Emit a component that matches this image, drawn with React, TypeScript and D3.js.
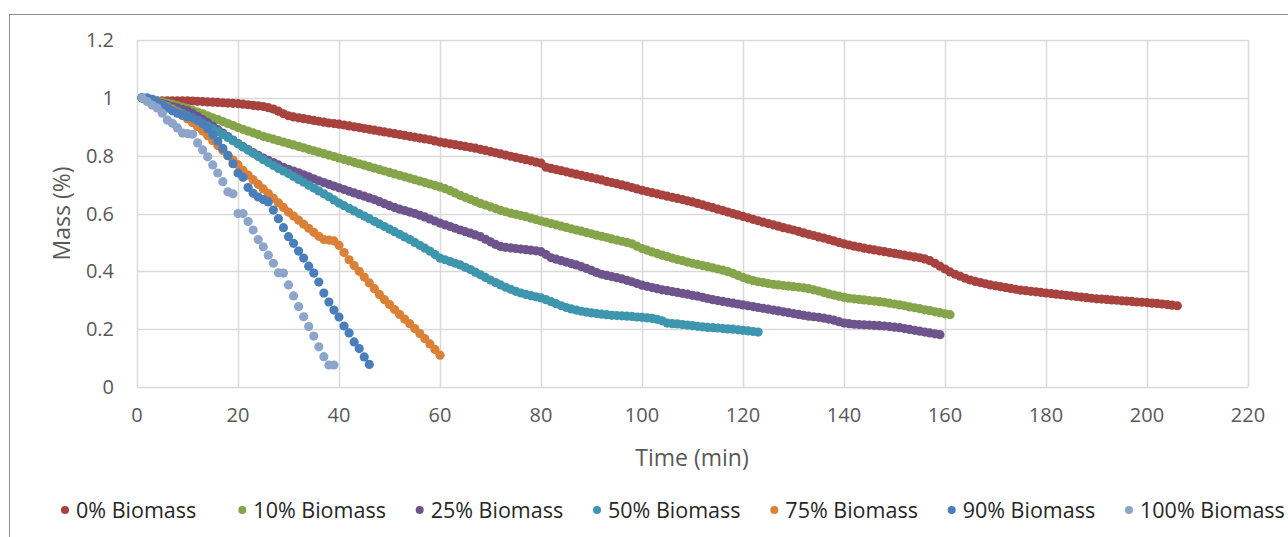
import React from "react";
import * as d3 from "d3";

// Time sampled every minute starting at t = 1 min
const TIME_START = 1;
const TIME_STEP = 1;

const xTicks = [0, 20, 40, 60, 80, 100, 120, 140, 160, 180, 200, 220];
const yTicks = [0, 0.2, 0.4, 0.6, 0.8, 1, 1.2];

const seriesNames = ["0% Biomass", "10% Biomass", "25% Biomass", "50% Biomass", "75% Biomass", "90% Biomass", "100% Biomass"];
const seriesColors = ["#A8423F", "#86A44A", "#6E548D", "#3D96AE", "#DA8137", "#4A7EBB", "#8EA5CB"];

const mass0 = [
  1.0, 0.995, 0.992, 0.99, 0.99, 0.99, 0.99, 0.99, 0.99, 0.99,
  0.989, 0.988, 0.987, 0.986, 0.985, 0.984, 0.983, 0.982, 0.981, 0.98,
  0.978, 0.976, 0.974, 0.972, 0.97, 0.966, 0.961, 0.954, 0.945, 0.938,
  0.934, 0.931, 0.928, 0.925, 0.922, 0.919, 0.916, 0.913, 0.911, 0.909,
  0.906, 0.903, 0.9, 0.897, 0.894, 0.891, 0.888, 0.885, 0.882, 0.879,
  0.876, 0.873, 0.87, 0.867, 0.864, 0.861, 0.858, 0.855, 0.851, 0.847,
  0.844, 0.841, 0.838, 0.835, 0.832, 0.829, 0.826, 0.822, 0.818, 0.814,
  0.81, 0.806, 0.802, 0.798, 0.794, 0.79, 0.786, 0.782, 0.778, 0.774,
  0.76, 0.756, 0.752, 0.748, 0.744, 0.74, 0.736, 0.732, 0.728, 0.724,
  0.72, 0.716, 0.711, 0.707, 0.703, 0.699, 0.695, 0.69, 0.685, 0.68,
  0.676, 0.672, 0.668, 0.664, 0.66, 0.656, 0.652, 0.648, 0.644, 0.64,
  0.635, 0.63, 0.625, 0.62, 0.615, 0.61, 0.605, 0.6, 0.595, 0.59,
  0.585, 0.58, 0.575, 0.57, 0.565, 0.561, 0.556, 0.551, 0.547, 0.543,
  0.538, 0.533, 0.528, 0.524, 0.519, 0.515, 0.51, 0.505, 0.5, 0.495,
  0.491, 0.487, 0.484, 0.48, 0.477, 0.474, 0.471, 0.468, 0.465, 0.462,
  0.459, 0.456, 0.453, 0.45, 0.447, 0.443, 0.437, 0.428, 0.418, 0.408,
  0.398, 0.39, 0.383, 0.376, 0.37, 0.365, 0.361, 0.357, 0.353, 0.35,
  0.347, 0.344, 0.341, 0.338, 0.335, 0.333, 0.331, 0.329, 0.327, 0.325,
  0.323, 0.321, 0.319, 0.317, 0.315, 0.313, 0.311, 0.309, 0.307, 0.305,
  0.304, 0.303, 0.301, 0.3, 0.298, 0.297, 0.296, 0.294, 0.293, 0.292,
  0.29, 0.289, 0.287, 0.285, 0.283, 0.281,
];

const mass10 = [
  1.0, 0.997, 0.994, 0.99, 0.986, 0.982, 0.978, 0.973, 0.968, 0.963,
  0.957, 0.951, 0.945, 0.938, 0.931, 0.925, 0.918, 0.911, 0.904, 0.897,
  0.891, 0.885, 0.879, 0.873, 0.867, 0.862, 0.857, 0.852, 0.847, 0.842,
  0.837, 0.832, 0.827, 0.822, 0.817, 0.812, 0.807, 0.802, 0.797, 0.792,
  0.787, 0.782, 0.777, 0.772, 0.767, 0.762, 0.757, 0.752, 0.747, 0.742,
  0.737, 0.732, 0.727, 0.722, 0.717, 0.712, 0.707, 0.702, 0.697, 0.692,
  0.686, 0.679, 0.671, 0.663, 0.656, 0.649, 0.642, 0.635, 0.629, 0.623,
  0.617, 0.611, 0.606, 0.601, 0.597, 0.593, 0.589, 0.584, 0.579, 0.574,
  0.57, 0.565, 0.561, 0.556, 0.552, 0.547, 0.543, 0.539, 0.534, 0.53,
  0.525, 0.521, 0.517, 0.512, 0.508, 0.504, 0.5, 0.495, 0.487, 0.479,
  0.473, 0.467, 0.462, 0.456, 0.451, 0.446, 0.441, 0.437, 0.432, 0.428,
  0.424, 0.42, 0.416, 0.412, 0.408, 0.404, 0.399, 0.393, 0.386, 0.379,
  0.373, 0.368, 0.364, 0.361, 0.358, 0.355, 0.353, 0.351, 0.349, 0.347,
  0.345, 0.343, 0.34, 0.336, 0.332, 0.327, 0.322, 0.318, 0.314, 0.31,
  0.307, 0.305, 0.303, 0.301, 0.299, 0.297, 0.295, 0.293, 0.29, 0.287,
  0.284, 0.281, 0.277, 0.274, 0.271, 0.267, 0.264, 0.26, 0.257, 0.253, 0.25,
];

const mass25 = [
  1.0, 0.995, 0.99, 0.985, 0.98, 0.975, 0.97, 0.965, 0.96, 0.955,
  0.946, 0.936, 0.925, 0.914, 0.902, 0.89, 0.878, 0.866, 0.854, 0.842,
  0.831, 0.821, 0.811, 0.801, 0.792, 0.784, 0.776, 0.768, 0.76, 0.753,
  0.747, 0.741, 0.734, 0.727, 0.72, 0.713, 0.707, 0.701, 0.695, 0.689,
  0.683, 0.677, 0.671, 0.665, 0.66, 0.654, 0.648, 0.641, 0.634, 0.627,
  0.621, 0.615, 0.61, 0.605, 0.6, 0.594, 0.588, 0.581, 0.574, 0.567,
  0.561, 0.555, 0.549, 0.543, 0.537, 0.532, 0.526, 0.52, 0.511, 0.502,
  0.493, 0.486, 0.483, 0.481, 0.479, 0.477, 0.475, 0.473, 0.471, 0.468,
  0.458, 0.447, 0.442, 0.437, 0.432, 0.427, 0.422, 0.416, 0.41, 0.403,
  0.396, 0.39, 0.386, 0.382, 0.378, 0.374, 0.369, 0.364, 0.358, 0.352,
  0.348, 0.344, 0.34, 0.336, 0.333, 0.33, 0.327, 0.324, 0.321, 0.317,
  0.314, 0.31, 0.306, 0.302, 0.299, 0.296, 0.293, 0.29, 0.287, 0.284,
  0.281, 0.278, 0.275, 0.272, 0.269, 0.266, 0.263, 0.26, 0.257, 0.254,
  0.251, 0.248, 0.245, 0.243, 0.241, 0.238, 0.235, 0.231, 0.226, 0.221,
  0.219, 0.217, 0.216, 0.215, 0.214, 0.213, 0.212, 0.211, 0.209, 0.207,
  0.205, 0.202, 0.199, 0.196, 0.193, 0.19, 0.187, 0.184, 0.181,
];

const mass50 = [
  1.0, 0.995, 0.99, 0.984, 0.977, 0.97, 0.962, 0.954, 0.946, 0.938,
  0.93, 0.921, 0.912, 0.903, 0.893, 0.883, 0.873, 0.863, 0.852, 0.841,
  0.83, 0.819, 0.808, 0.797, 0.786, 0.776, 0.766, 0.756, 0.747, 0.738,
  0.728, 0.718, 0.708, 0.698, 0.688, 0.678, 0.668, 0.658, 0.647, 0.636,
  0.627, 0.618, 0.609, 0.6, 0.591, 0.582, 0.573, 0.564, 0.555, 0.546,
  0.537, 0.528, 0.519, 0.51, 0.5, 0.49, 0.48, 0.47, 0.458, 0.446,
  0.44, 0.434, 0.428, 0.422, 0.414, 0.406, 0.397, 0.388, 0.379, 0.37,
  0.361, 0.353, 0.345, 0.338, 0.331, 0.325, 0.32, 0.316, 0.312, 0.308,
  0.302, 0.295, 0.288, 0.281, 0.275, 0.27, 0.266, 0.262, 0.259, 0.256,
  0.254, 0.252, 0.25, 0.248, 0.247, 0.246, 0.245, 0.244, 0.242, 0.241,
  0.239, 0.237, 0.234, 0.229, 0.221, 0.219, 0.218, 0.216, 0.214, 0.212,
  0.21, 0.208, 0.206, 0.205, 0.204, 0.202, 0.201, 0.2, 0.198, 0.196,
  0.194, 0.192, 0.19,
];

const mass75 = [
  1.0, 0.995, 0.99, 0.984, 0.977, 0.969, 0.96, 0.95, 0.939, 0.927,
  0.914, 0.9, 0.885, 0.869, 0.852, 0.835, 0.818, 0.801, 0.785, 0.769,
  0.749, 0.733, 0.717, 0.701, 0.685, 0.669, 0.653, 0.637, 0.621, 0.605,
  0.591, 0.577, 0.563, 0.549, 0.535, 0.521, 0.51, 0.508, 0.505, 0.49,
  0.465, 0.44, 0.42, 0.4, 0.38, 0.36, 0.34, 0.32, 0.302, 0.285,
  0.268, 0.251, 0.235, 0.219, 0.202, 0.185, 0.167, 0.149, 0.13, 0.11,
];

const mass90 = [
  1.0, 1.0, 0.995, 0.985, 0.975, 0.965, 0.955, 0.947, 0.94, 0.935,
  0.93, 0.922, 0.91, 0.893, 0.872, 0.85, 0.825, 0.8, 0.772, 0.74,
  0.725, 0.69, 0.67, 0.657, 0.648, 0.64, 0.612, 0.582, 0.551, 0.52,
  0.497, 0.47, 0.446, 0.418, 0.394, 0.363, 0.325, 0.294, 0.266, 0.242,
  0.211, 0.187, 0.156, 0.133, 0.104, 0.078,
];

const mass100 = [
  1.0, 0.987, 0.975, 0.965, 0.947, 0.923, 0.912, 0.896, 0.878, 0.876,
  0.874, 0.844, 0.82, 0.796, 0.768, 0.74, 0.71, 0.675, 0.668, 0.6,
  0.6, 0.572, 0.543, 0.51, 0.485, 0.456, 0.428, 0.395, 0.394, 0.353,
  0.315, 0.278, 0.243, 0.209, 0.176, 0.139, 0.105, 0.076, 0.076,
];

const seriesValues = [mass0, mass10, mass25, mass50, mass75, mass90, mass100];

const W = 1288;
const H = 537;
const plot = { left: 137, right: 1248, top: 40, bottom: 387 };
const FONT = "'Open Sans', 'Liberation Sans', sans-serif";

export default function App() {
  const x = d3.scaleLinear().domain([0, 220]).range([plot.left, plot.right]);
  const y = d3.scaleLinear().domain([0, 1.2]).range([plot.bottom, plot.top]);
  const legendX = d3.scalePoint<number>().domain(d3.range(seriesNames.length)).range([65, 1129]);

  return (
    <svg width={W} height={H} style={{ position: "absolute", left: 0, top: 0, background: "#fff" }}>
      <rect x={0} y={0} width={W} height={H} fill="#fff" />
      <rect x={9.5} y={14.5} width={W + 20} height={H + 20} fill="none" stroke="#8c8c8c" strokeWidth={1} />
      {/* gridlines */}
      {yTicks.map((t) => (
        <line key={"gy" + t} x1={plot.left} x2={plot.right} y1={Math.round(y(t)) + 0.5} y2={Math.round(y(t)) + 0.5} stroke="#D9D9D9" strokeWidth={1.5} />
      ))}
      {xTicks.map((t) => (
        <line key={"gx" + t} x1={Math.round(x(t)) + 0.5} x2={Math.round(x(t)) + 0.5} y1={plot.top} y2={plot.bottom} stroke="#D9D9D9" strokeWidth={1.5} />
      ))}
      {/* tick labels */}
      {yTicks.map((t) => (
        <text key={"ly" + t} x={114} y={y(t)} dy="0.35em" textAnchor="end" fontFamily={FONT} fontSize={20} fill="#595959">
          {d3.format("~g")(t)}
        </text>
      ))}
      {xTicks.map((t) => (
        <text key={"lx" + t} x={x(t)} y={415} dy="0.35em" textAnchor="middle" fontFamily={FONT} fontSize={20} fill="#595959">
          {t}
        </text>
      ))}
      {/* axis titles */}
      <text x={692} y={458} dy="0.35em" textAnchor="middle" fontFamily={FONT} fontSize={23} fill="#595959">
        Time (min)
      </text>
      <text transform={`translate(62,${(plot.top + plot.bottom) / 2}) rotate(-90)`} dy="0.35em" textAnchor="middle" fontFamily={FONT} fontSize={23} fill="#595959">
        Mass (%)
      </text>
      {/* series */}
      {seriesValues.map((vals, si) => (
        <g key={"s" + si} fill={seriesColors[si]}>
          {vals.map((v, i) => (
            <circle key={i} cx={x(TIME_START + i * TIME_STEP)} cy={y(v)} r={4.6} />
          ))}
        </g>
      ))}
      {/* legend */}
      {seriesNames.map((name, i) => (
        <g key={"lg" + i} transform={`translate(${legendX(i)},510)`}>
          <circle cx={0} cy={0} r={4} fill={seriesColors[i]} />
          <text x={11} y={0} dy="0.35em" fontFamily={FONT} fontSize={21.5} fill="#262626">
            {name}
          </text>
        </g>
      ))}
    </svg>
  );
}
